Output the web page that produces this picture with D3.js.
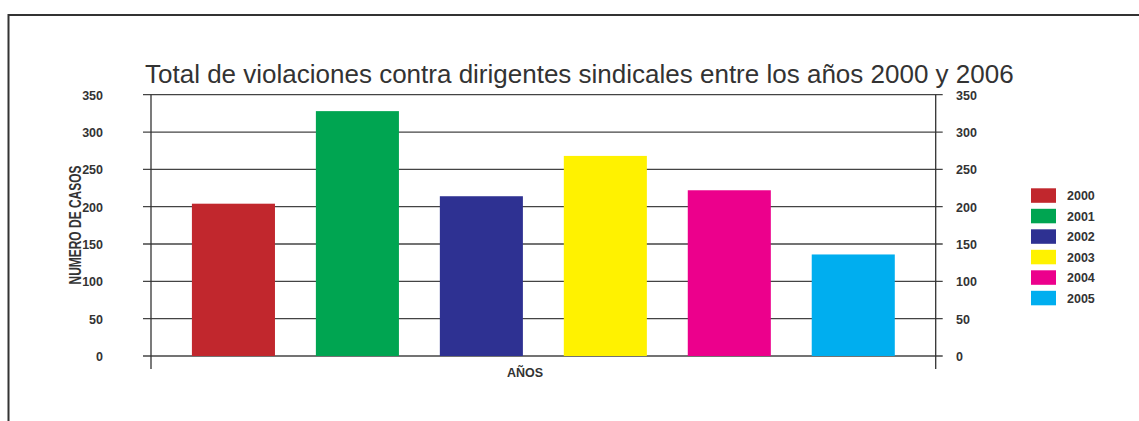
<!DOCTYPE html>
<html><head><meta charset="utf-8">
<script src="https://cdn.jsdelivr.net/npm/d3@7"></script>
<style>body{margin:0;background:#fff}svg{display:block}</style>
</head><body>
<svg id="c" width="1139" height="421"></svg>
<script>
const categories = ["2000","2001","2002","2003","2004","2005"];
const values = [204, 328, 214, 268, 222, 136];
const colors = ["#C1272D","#00A551","#2E3192","#FFF200","#EC008C","#00AEEF"];
const yTicks = [0,50,100,150,200,250,300,350];
const title = "Total de violaciones contra dirigentes sindicales entre los años 2000 y 2006";

const svg = d3.select("#c");
const L = 151, R = 935.7, T = 94.7, B = 356;
const x = d3.scaleBand().domain(categories).range([L, R]).padding(0.33);
const y = d3.scaleLinear().domain([0, 350]).range([B, T]);
const ink = "#333";
const font = "Liberation Sans, Arial, sans-serif";

// frame
svg.append("line").attr("x1", 8.5).attr("x2", 1139).attr("y1", 15).attr("y2", 15).attr("stroke", ink).attr("stroke-width", 2);
svg.append("line").attr("x1", 8.5).attr("x2", 8.5).attr("y1", 14).attr("y2", 421).attr("stroke", ink).attr("stroke-width", 2);

// gridlines
svg.append("g").selectAll("line").data(yTicks).join("line")
  .attr("x1", L - 8).attr("x2", R + 7)
  .attr("y1", d => y(d)).attr("y2", d => y(d))
  .attr("stroke", "#444").attr("stroke-width", 1.3);

// bars
svg.append("g").selectAll("rect").data(categories).join("rect")
  .attr("x", d => x(d)).attr("width", x.bandwidth())
  .attr("y", (d, i) => y(values[i])).attr("height", (d, i) => B - y(values[i]))
  .attr("fill", (d, i) => colors[i]);

// vertical axis lines
[L, R].forEach(xx => svg.append("line").attr("x1", xx).attr("x2", xx).attr("y1", T).attr("y2", 369)
  .attr("stroke", ink).attr("stroke-width", 1.3));

// left axis labels
const lax = d3.axisLeft(y).tickValues(yTicks).tickSize(0).tickPadding(0);
const gl = svg.append("g").attr("transform", `translate(103,0)`).call(lax);
gl.select(".domain").remove();
gl.selectAll("text").attr("font-family", font).attr("font-weight", "bold")
  .attr("font-size", 12.5).attr("fill", ink).attr("dy", "0.35em");

const rax = d3.axisRight(y).tickValues(yTicks).tickSize(0).tickPadding(0);
const gr = svg.append("g").attr("transform", `translate(956,0)`).call(rax);
gr.select(".domain").remove();
gr.selectAll("text").attr("font-family", font).attr("font-weight", "bold")
  .attr("font-size", 12.5).attr("fill", ink).attr("dy", "0.35em");

// title
svg.append("text").attr("x", 145).attr("y", 83).text(title)
  .attr("font-family", font).attr("font-size", 26).attr("fill", ink);

// y label
svg.append("text").attr("transform", "translate(80.5,225) rotate(-90)").attr("text-anchor", "middle")
  .text("NUMERO DE CASOS")
  .attr("font-family", "Liberation Sans Narrow, Arial Narrow, Liberation Sans, sans-serif")
  .attr("font-weight", "bold").attr("font-size", 17).attr("fill", ink)
  .attr("textLength", 119).attr("lengthAdjust", "spacingAndGlyphs");

// x label
svg.append("text").attr("x", 525).attr("y", 377).attr("text-anchor", "middle").text("AÑOS")
  .attr("font-family", font).attr("font-weight", "bold")
  .attr("font-size", 12.5).attr("fill", ink);

// legend
const lg = svg.append("g").selectAll("g").data(categories).join("g")
  .attr("transform", (d, i) => `translate(1031,${188.3 + i * 20.5})`);
lg.append("rect").attr("width", 25).attr("height", 14.5).attr("fill", (d, i) => colors[i]);
lg.append("text").attr("x", 36).attr("y", 7.5).attr("dy", "0.35em").text(d => d)
  .attr("font-family", font).attr("font-weight", "bold")
  .attr("font-size", 12.5).attr("fill", ink);
</script>
</body></html>
